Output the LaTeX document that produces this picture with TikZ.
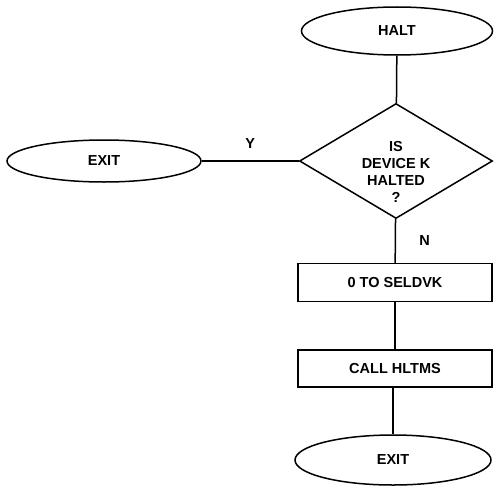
\documentclass[tikz,border=0pt]{standalone}
\usepackage{fontspec}
\setmainfont{Liberation Sans}
\usetikzlibrary{shapes.geometric}

\begin{document}
\begin{tikzpicture}[x=1pt, y=-1pt, line width=1.5pt,
    every node/.style={font=\fontsize{14.5}{17}\selectfont\bfseries},
    term/.style={draw, ellipse, inner sep=0pt, minimum width=194pt, minimum height=48pt},
    proc/.style={draw, rectangle, inner sep=0pt, minimum width=194pt, minimum height=38pt},
    decide/.style={draw, diamond, inner sep=0pt, minimum width=193pt, minimum height=115pt}]

        \useasboundingbox (0,0) rectangle (494,487);

        \node[term, minimum width=191pt] (halt) at (397,31) {HALT};

        \node[decide] (isk) at (396,161) {};
        \node[align=center] (iskt) at (396,172) {IS\\DEVICE K\\HALTED\\?};

        \node[term, minimum height=42pt] (exitl) at (104,161) {EXIT};

        \node[proc] (seld) at (395,282.5) {0 TO SELDVK};
        \node[proc, minimum height=37pt] (hltms) at (395,368.5) {CALL HLTMS};

        \node[term, minimum width=196pt, minimum height=50pt] (exitb) at (393,460) {EXIT};

        % Draw edges down the main column
        \draw (halt) -- (isk);
        \draw (isk) -- node[right=20pt] {N} (seld);
        \draw (seld) -- (hltms);
        \draw (hltms.south -| exitb.north) -- (exitb);

        % Draw the yes branch
        \draw (isk) -- node[above=8pt] {Y} (exitl);

\end{tikzpicture}
\end{document}
